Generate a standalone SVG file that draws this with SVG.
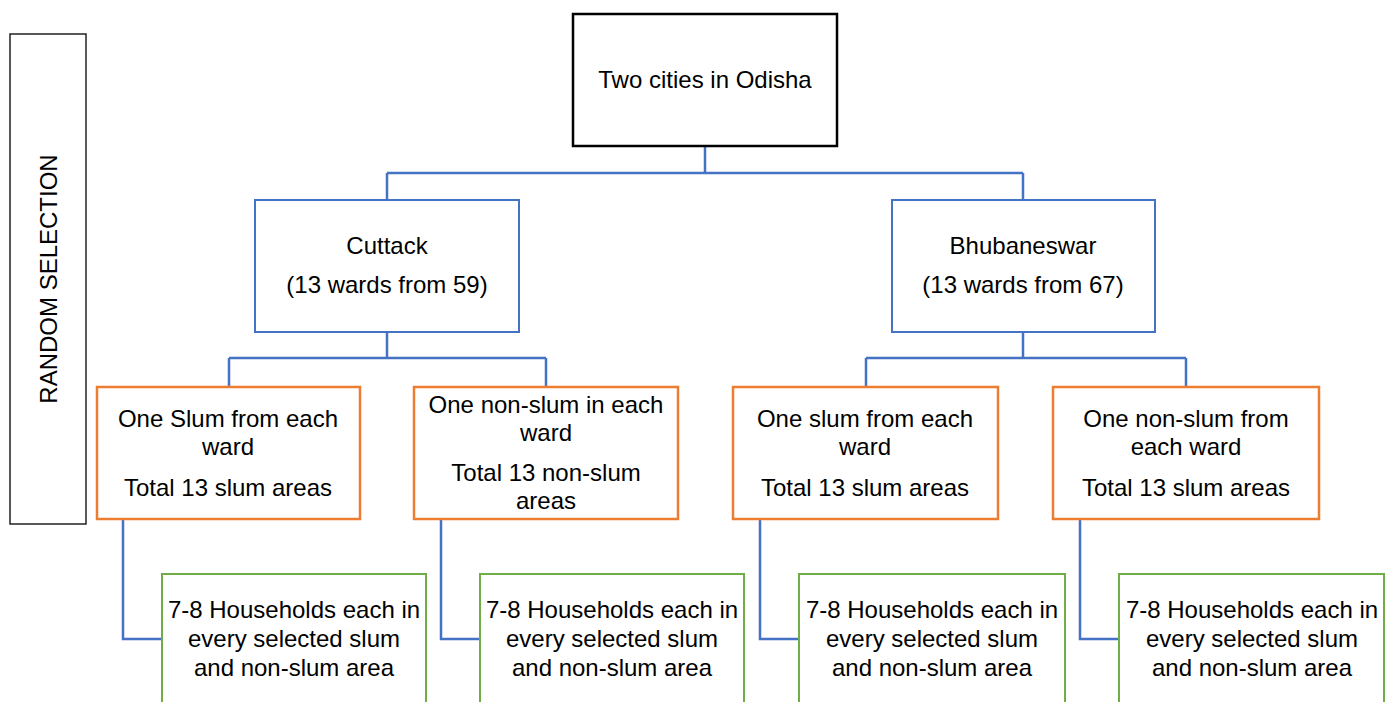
<svg xmlns="http://www.w3.org/2000/svg" width="1387" height="702" viewBox="0 0 1387 702">
<style>
text{font-family:"Liberation Sans",Arial,sans-serif;font-size:24px;fill:#000;text-anchor:middle}
.blk{fill:#fff;stroke:#000;stroke-width:2.5}
.blu{fill:#fff;stroke:#4472C4;stroke-width:2}
.org{fill:#fff;stroke:#ED7D31;stroke-width:2.5}
.grn{fill:#fff;stroke:#70AD47;stroke-width:2}
.con{fill:none;stroke:#4472C4;stroke-width:2.5}
.side{fill:#fff;stroke:#222;stroke-width:1.5}
</style>
<rect width="1387" height="702" fill="#fff"/>
<g id="connectors">
<path class="con" d="M705,146V173M387,173H1023M387,173V200M1023,173V200"/>
<path class="con" d="M387,332V358M229,358H546M229,358V387M546,358V387"/>
<path class="con" d="M1023,332V358M866,358H1186M866,358V387M1186,358V387"/>
<path class="con" d="M123,519V639H162M441,519V639H480M760,519V639H799M1080,519V639H1119"/>
</g>
<g id="random-selection">
<rect class="side" x="10" y="34" width="76" height="490"/>
<text transform="translate(57,279) rotate(-90)">RANDOM SELECTION</text>
</g>
<g id="two-cities">
<rect class="blk" x="573" y="14" width="264" height="132"/>
<text x="705" y="88">Two cities in Odisha</text>
</g>
<g id="cuttack">
<rect class="blu" x="255" y="200" width="264" height="132"/>
<text x="387" y="254">Cuttack</text>
<text x="387" y="293">(13 wards from 59)</text>
</g>
<g id="bhubaneswar">
<rect class="blu" x="892" y="200" width="263" height="132"/>
<text x="1023" y="254">Bhubaneswar</text>
<text x="1023" y="293">(13 wards from 67)</text>
</g>
<g id="c-slum">
<rect class="org" x="97" y="387" width="263" height="132"/>
<text x="228" y="427">One Slum from each</text>
<text x="228" y="455">ward</text>
<text x="228" y="496">Total 13 slum areas</text>
</g>
<g id="c-nonslum">
<rect class="org" x="414" y="387" width="264" height="132"/>
<text x="546" y="413">One non-slum in each</text>
<text x="546" y="441">ward</text>
<text x="546" y="481">Total 13 non-slum</text>
<text x="546" y="509">areas</text>
</g>
<g id="b-slum">
<rect class="org" x="733" y="387" width="265" height="132"/>
<text x="865" y="427">One slum from each</text>
<text x="865" y="455">ward</text>
<text x="865" y="496">Total 13 slum areas</text>
</g>
<g id="b-nonslum">
<rect class="org" x="1053" y="387" width="266" height="132"/>
<text x="1186" y="427">One non-slum from</text>
<text x="1186" y="455">each ward</text>
<text x="1186" y="496">Total 13 slum areas</text>
</g>
<g id="hh1">
<rect class="grn" x="162" y="574" width="264" height="160"/>
<text x="294" y="618">7-8 Households each in</text>
<text x="294" y="647">every selected slum</text>
<text x="294" y="676">and non-slum area</text>
</g>
<g id="hh2">
<rect class="grn" x="480" y="574" width="264" height="160"/>
<text x="612" y="618">7-8 Households each in</text>
<text x="612" y="647">every selected slum</text>
<text x="612" y="676">and non-slum area</text>
</g>
<g id="hh3">
<rect class="grn" x="799" y="574" width="266" height="160"/>
<text x="932" y="618">7-8 Households each in</text>
<text x="932" y="647">every selected slum</text>
<text x="932" y="676">and non-slum area</text>
</g>
<g id="hh4">
<rect class="grn" x="1119" y="574" width="265" height="160"/>
<text x="1252" y="618">7-8 Households each in</text>
<text x="1252" y="647">every selected slum</text>
<text x="1252" y="676">and non-slum area</text>
</g>
</svg>
